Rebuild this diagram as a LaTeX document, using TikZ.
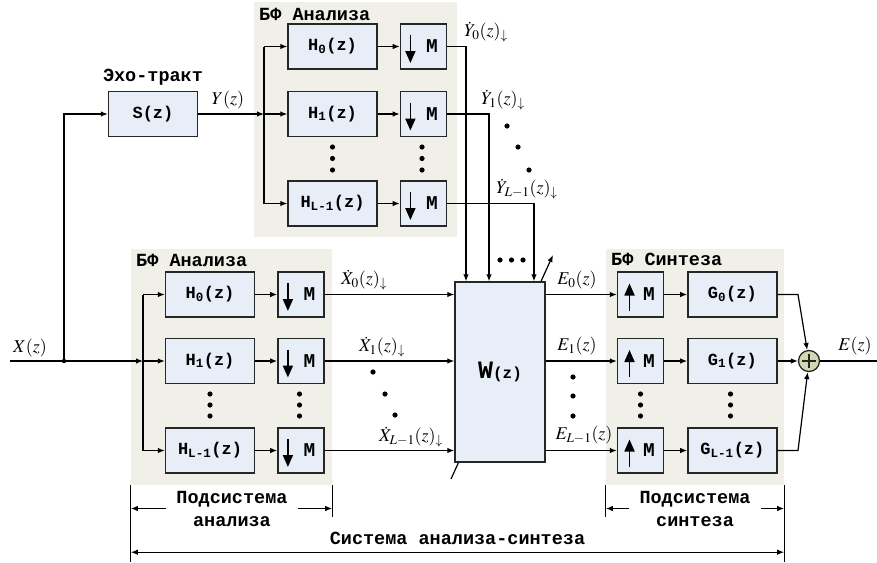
\documentclass[tikz,border=0pt]{standalone}
\usepackage{mathptmx}
\usepackage{fontspec}
\setmonofont{Liberation Mono}
\usetikzlibrary{arrows.meta,positioning}

\definecolor{boxfill}{RGB}{232,238,248}
\definecolor{panelfill}{RGB}{240,240,232}
\definecolor{sumfill}{RGB}{212,216,178}

\begin{document}
\begin{tikzpicture}[x=1pt,y=-1pt,
every node/.style={font=\fontsize{18}{22}\selectfont},
blk/.style={draw=black!85,line width=1.4pt,fill=boxfill,minimum width=89pt,minimum height=45pt,inner sep=0pt,font=\fontsize{17}{20}\selectfont\ttfamily\bfseries},
rate/.style={blk,minimum width=46pt,font=\fontsize{19.5}{20}\selectfont\ttfamily\bfseries},
panel/.style={fill=panelfill,inner sep=0pt},
ttl/.style={inner sep=0pt,font=\fontsize{18.5}{23}\selectfont\ttfamily\bfseries},
sig/.style={inner sep=0.5pt},
go/.style={-{Latex[length=7pt,width=5.5pt]},line width=1.2pt},
ln/.style={line width=1.2pt},
rarr/.style={-{Triangle[length=12pt,width=10pt]},line width=1.8pt},
span/.style={{Latex[length=7pt,width=5.5pt]}-{Latex[length=7pt,width=5.5pt]},line width=1.2pt}]
\useasboundingbox (0,0) rectangle (877,562);

% panels
\node[panel,minimum width=203pt,minimum height=235pt] (panY) at (355.5,119.5) {};
\node[panel,minimum width=201pt,minimum height=236pt] (panX) at (231.5,367) {};
\node[panel,minimum width=178pt,minimum height=236pt] (panS) at (695,367) {};
\node[ttl,anchor=west] (tY) at (259,14) {БФ Анализа};
\node[ttl,anchor=west] (tX) at (136,260) {БФ Анализа};
\node[ttl,anchor=west] (tS) at (611,259) {БФ Синтеза};

% echo path
\node[blk] (sz) at (153,114) {S(z)};
\node[ttl] (echo) at (153,77) {Эхо-тракт};

% upper analysis bank
\node[blk] (hy0) at (332.5,46.5) {H\textsubscript{0}(z)};
\node[blk] (hy1) at (332.5,114) {H\textsubscript{1}(z)};
\node[blk] (hyL) at (332.5,203.5) {H\textsubscript{L-1}(z)};
\node[rate,right=22pt of hy0] (dy0) {\hspace*{17pt}M};
\node[rate,right=22pt of hy1] (dy1) {\hspace*{17pt}M};
\node[rate,right=22pt of hyL] (dyL) {\hspace*{17pt}M};

% lower analysis bank
\node[blk] (hx0) at (210,294.5) {H\textsubscript{0}(z)};
\node[blk] (hx1) at (210,361) {H\textsubscript{1}(z)};
\node[blk] (hxL) at (210,450.5) {H\textsubscript{L-1}(z)};
\node[rate,right=22pt of hx0] (dx0) {\hspace*{17pt}M};
\node[rate,right=22pt of hx1] (dx1) {\hspace*{17pt}M};
\node[rate,right=22pt of hxL] (dxL) {\hspace*{17pt}M};

% adaptive filter
\coordinate (ad0) at (451,479);
\coordinate (ad1) at (553,255);
\draw[go] (ad0) -- (ad1);
\node[blk,minimum width=90pt,minimum height=180pt] (w) at (500,372) {{\fontsize{25}{25}\selectfont W}{\fontsize{16}{20}\selectfont(z)}};

% synthesis bank
\node[rate] (u0) at (640.5,294.5) {\hspace*{17pt}M};
\node[rate] (u1) at (640.5,361) {\hspace*{17pt}M};
\node[rate] (uL) at (640.5,450.5) {\hspace*{17pt}M};
\node[blk,right=23pt of u0] (g0) {G\textsubscript{0}(z)};
\node[blk,right=23pt of u1] (g1) {G\textsubscript{1}(z)};
\node[blk,right=23pt of uL] (gL) {G\textsubscript{L-1}(z)};
\node[circle,draw=black!85,fill=sumfill,line width=1.3pt,minimum size=21pt,inner sep=0pt,
  path picture={\draw[line width=1.6pt] ([yshift=7pt]path picture bounding box.center)--([yshift=-7pt]path picture bounding box.center)
  ([xshift=-7pt]path picture bounding box.center)--([xshift=7pt]path picture bounding box.center);}] (sum) at (809,361) {};

% decimator / expander arrows
\draw[rarr] ([shift={(-13pt,11.5pt)}]dy0.center) -- ([shift={(-13pt,-16.5pt)}]dy0.center);
\draw[rarr] ([shift={(-13pt,11.5pt)}]dy1.center) -- ([shift={(-13pt,-16.5pt)}]dy1.center);
\draw[rarr] ([shift={(-13pt,11.5pt)}]dyL.center) -- ([shift={(-13pt,-16.5pt)}]dyL.center);
\draw[rarr] ([shift={(-13pt,11.5pt)}]dx0.center) -- ([shift={(-13pt,-16.5pt)}]dx0.center);
\draw[rarr] ([shift={(-13pt,11.5pt)}]dx1.center) -- ([shift={(-13pt,-16.5pt)}]dx1.center);
\draw[rarr] ([shift={(-13pt,11.5pt)}]dxL.center) -- ([shift={(-13pt,-16.5pt)}]dxL.center);
\draw[rarr] ([shift={(-11pt,-16pt)}]u0.center) -- ([shift={(-11pt,11pt)}]u0.center);
\draw[rarr] ([shift={(-11pt,-16pt)}]u1.center) -- ([shift={(-11pt,11pt)}]u1.center);
\draw[rarr] ([shift={(-11pt,-16pt)}]uL.center) -- ([shift={(-11pt,11pt)}]uL.center);

% input and echo path
\coordinate (xin) at (10,361);
\coordinate (jx) at (64,361);
\coordinate (busX) at (143,361);
\coordinate (busY) at (264,114);
\draw[ln] (xin) -- (jx);
\draw[go] (jx) -- (busX);
\draw[go] (jx) |- (sz);
\node[circle,fill,inner sep=0pt,minimum size=4.5pt] (jd) at (jx) {};
\draw[go] (sz) -- (busY);
\node[sig] (xlab) at (30,348) {$X(z)$};
\node[sig] (ylab) at (228,100) {$Y(z)$};

% upper bank wiring
\draw[ln] (busY |- hy0) -- (busY |- hyL);
\draw[go] (busY |- hy0) -- (hy0);
\draw[go] (busY |- hy1) -- (hy1);
\draw[go] (busY |- hyL) -- (hyL);
\draw[go] (hy0) -- (dy0);\draw[go] (hy1) -- (dy1);\draw[go] (hyL) -- (dyL);
\draw[go] (dy0) -| ([xshift=-34pt]w.north);
\draw[go] (dy1) -| ([xshift=-11pt]w.north);
\draw[go] (dyL) -| ([xshift=34pt]w.north);
\node[sig] (ly0) at (486,32) {$\dot Y_0(z)_\downarrow$};
\node[sig] (ly1) at (503,100) {$\dot Y_1(z)_\downarrow$};
\node[sig] (lyL) at (527,189) {$\dot Y_{L-1}(z)_\downarrow$};

% lower bank wiring
\draw[ln] (busX |- hx0) -- (busX |- hxL);
\draw[go] (busX |- hx0) -- (hx0);
\draw[go] (busX |- hx1) -- (hx1);
\draw[go] (busX |- hxL) -- (hxL);
\draw[go] (hx0) -- (dx0);\draw[go] (hx1) -- (dx1);\draw[go] (hxL) -- (dxL);
\draw[go] (dx0) -- (dx0 -| w.west);
\draw[go] (dx1) -- (dx1 -| w.west);
\draw[go] (dxL) -- (dxL -| w.west);
\node[sig] (lx0) at (364,280) {$\dot X_0(z)_\downarrow$};
\node[sig] (lx1) at (382,347) {$\dot X_1(z)_\downarrow$};
\node[sig] (lxL) at (411,437) {$\dot X_{L-1}(z)_\downarrow$};

% synthesis wiring
\draw[go] (w.east |- u0) -- (u0);
\draw[go] (w.east |- u1) -- (u1);
\draw[go] (w.east |- uL) -- (uL);
\draw[go] (u0) -- (g0);\draw[go] (u1) -- (g1);\draw[go] (uL) -- (gL);
\coordinate (k0) at (798,294.5);
\coordinate (kL) at (798,450.5);
\coordinate (eout) at (877,361);
\draw[go] (g0) -- (k0) -- (sum);
\draw[go] (g1) -- (sum);
\draw[go] (gL) -- (kL) -- (sum);
\draw[ln] (sum) -- (eout);
\node[sig] (le0) at (577,280) {$E_0(z)$};
\node[sig] (le1) at (577,346) {$E_1(z)$};
\node[sig] (leL) at (584,435) {$E_{L-1}(z)$};
\node[sig] (lout) at (855,346) {$E(z)$};

% dots
\fill (332.5,147) circle (2.6pt) (332.5,158.5) circle (2.6pt) (332.5,170) circle (2.6pt)
      (422,147) circle (2.6pt) (422,158.5) circle (2.6pt) (422,170) circle (2.6pt)
      (210,394) circle (2.6pt) (210,405) circle (2.6pt) (210,416) circle (2.6pt)
      (299.5,394) circle (2.6pt) (299.5,405) circle (2.6pt) (299.5,416) circle (2.6pt)
      (640.5,394) circle (2.6pt) (640.5,405) circle (2.6pt) (640.5,416) circle (2.6pt)
      (730.5,394) circle (2.6pt) (730.5,405) circle (2.6pt) (730.5,416) circle (2.6pt)
      (507,126) circle (2.6pt) (518,147) circle (2.6pt) (529,170) circle (2.6pt)
      (373,372) circle (2.6pt) (385,394) circle (2.6pt) (395,415) circle (2.6pt)
      (573,377) circle (2.6pt) (573,396) circle (2.6pt) (573,416) circle (2.6pt)
      (500,260) circle (2.6pt) (511.5,260) circle (2.6pt) (523,260) circle (2.6pt);

% dimension brackets
\draw[ln] (panX.south west) -- ++(0,77);
\draw[ln] (panX.south east) -- ++(0,32);
\draw[ln] (panS.south west) -- ++(0,32);
\draw[ln] (panS.south east) -- ++(0,77);
\node[ttl,align=center,inner xsep=10pt] (subA) at (232,508.5) {Подсистема\\анализа};
\node[ttl,align=center,inner xsep=10pt] (subS) at (695,508.5) {Подсистема\\синтеза};
\draw[go] (subA.west) -- (subA.west -| panX.west);
\draw[go] (subA.east) -- (subA.east -| panX.east);
\draw[go] (subS.west) -- (subS.west -| panS.west);
\draw[go] (subS.east) -- (subS.east -| panS.east);
\node[ttl] (sysAS) at (457.5,538) {Система анализа-синтеза};
\draw[span] ([yshift=-67pt]panX.south west) -- ([yshift=-67pt]panS.south east);
\end{tikzpicture}
\end{document}
